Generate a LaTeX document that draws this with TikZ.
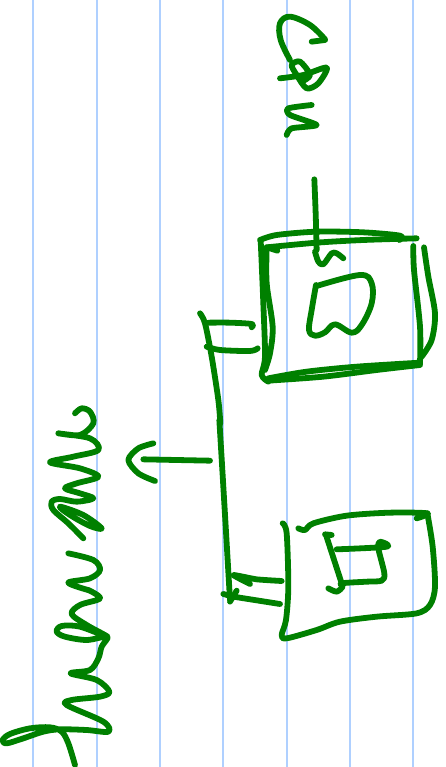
\documentclass[tikz,border=0pt]{standalone}
\definecolor{inkgreen}{HTML}{008000}
\definecolor{ruleblue}{HTML}{AFD0FF}
\begin{document}
\begin{tikzpicture}[
    x=1pt, y=-1pt,
    ink/.style={draw=inkgreen, line width=5.8pt, line cap=round, line join=round},
    rule/.style={draw=ruleblue, line width=2.2pt},
    crop/.style={shift={(#1)}, scale=1/3},
  ]
    \path[use as bounding box, fill=white] (0,0) rectangle (445,767);

    % Ruled paper ------------------------------------------------------------
    \foreach \xpos in {33,97,160,223,287,350,413}
      \draw[rule] (\xpos,0) -- (\xpos,767);

    % Upper box --------------------------------------------------------------
    \begin{scope}[crop={190,170}]
      \draw[ink] plot[smooth] coordinates {(373,28) (377,130) (380,240)};
      \draw[ink] plot[smooth] coordinates {(375,245) (385,275) (400,283) (425,250) (440,250) (460,265)};
      \draw[ink] plot[smooth] coordinates {(210,210) (260,195) (380,185) (520,187) (630,197) (628,210)};
      \draw[ink] plot[smooth] coordinates {(230,232) (380,218) (520,210) (680,205)};
      \draw[ink] (230,232) -- (262,242);
      \draw[ink] plot[smooth] coordinates {(212,210) (220,400) (225,560) (215,615) (235,635)};
      \draw[ink] plot[smooth] coordinates {(230,235) (230,340) (248,470) (240,550) (225,600)};
      \draw[ink] plot[smooth] coordinates {(235,632) (400,620) (560,600) (690,585)};
      \draw[ink] plot[smooth] coordinates {(235,625) (350,605) (500,590) (690,578)};
      \draw[ink] plot[smooth] coordinates {(670,228) (672,300) (690,470) (690,580)};
      \draw[ink] plot[smooth] coordinates {(702,232) (715,320) (735,430) (725,510) (695,560)};
      % inner shape
      \draw[ink] plot[smooth, tension=0.6] coordinates {(378,345) (365,420) (357,480) (375,497) (405,487)
        (435,463) (485,488) (515,465) (545,400) (545,340) (510,315) (380,348)};
      % stem and ticks
      \draw[ink] plot[smooth] coordinates {(30,430) (45,460) (65,560) (85,690) (91,760)};
      \draw[ink] plot[smooth] coordinates {(55,458) (120,458) (185,462) (185,472)};
      \draw[ink] plot[smooth] coordinates {(50,530) (90,540) (180,543) (203,535)};
    \end{scope}

    % Lower box --------------------------------------------------------------
    \begin{scope}[crop={190,420}]
      \draw[ink] plot[smooth] coordinates {(88,0) (100,200) (120,540)};
      \draw[ink] plot[smooth] coordinates {(278,310) (290,340) (295,500) (288,600) (275,645) (290,655)
        (380,630) (450,605) (560,590) (680,580) (720,555) (735,500) (728,380) (712,280)};
      \draw[ink] plot[smooth] coordinates {(325,325) (345,330) (370,310) (470,287) (600,278) (712,280) (680,295)};
      % inner shape
      \draw[ink] (405,343) -- (425,345);
      \draw[ink] (408,345) -- (455,490);
      \draw[ink] plot[smooth] coordinates {(415,505) (440,515) (458,500) (455,490) (530,485) (575,482)
        (583,460) (565,385) (570,365) (590,380) (440,388)};
      % ticks
      \draw[ink] plot[smooth, tension=0.3] coordinates {(275,483) (200,478) (130,465) (180,492)};
      \draw[ink] (270,552) -- (130,530) -- (100,522) (120,545) -- (140,512);
    \end{scope}

    % Pointer ----------------------------------------------------------------
    \begin{scope}[crop={115,430}]
      \draw[ink] (85,88) -- (285,92);
      \draw[ink] plot[smooth] coordinates {(115,40) (70,55) (40,90) (70,130) (120,153)};
    \end{scope}

    % Handwriting, left ------------------------------------------------------
    \begin{scope}[crop={0,590}]
      \draw[ink] plot[smooth, tension=0.55] coordinates {(225,525) (205,460) (185,425) (150,412) (90,415)
        (30,432) (8,450) (20,460) (70,445) (130,425) (180,418) (260,420) (325,425) (310,395) (200,345)
        (215,330) (300,320) (328,305) (290,270) (212,250) (270,240) (295,205) (305,170) (322,140)
        (260,150) (195,140) (170,125) (185,108) (240,110) (322,140) (260,105) (215,72) (240,45)
        (300,25) (265,0)};
    \end{scope}
    \begin{scope}[crop={40,400}]
      \draw[ink] plot[smooth, tension=0.55] coordinates {(144,570) (85,548) (150,535) (180,510) (160,480) (85,460)};
      \draw[ink] plot[smooth, tension=0.55] coordinates {(130,415) (85,370) (40,330) (35,305) (60,297) (110,305)
        (160,295) (120,280) (75,265) (110,250) (175,230) (120,205) (30,187) (100,170) (175,150)
        (150,115) (55,100) (120,105) (160,70) (150,35) (125,25) (105,40)};
      \draw[ink] plot[smooth cycle, tension=0.55] coordinates {(60,320) (130,345) (185,385) (150,378) (90,345)};
    \end{scope}

    % Handwriting, top -------------------------------------------------------
    \begin{scope}[crop={260,0}]
      \draw[ink] (195,120) -- (155,125);
      \draw[ink] plot[smooth, tension=0.6] coordinates {(195,118) (150,75) (90,50) (60,70) (62,120) (90,180)};
      \draw[ink] plot[smooth, tension=0.5] coordinates {(60,235) (130,225) (200,203) (175,250) (140,265)
        (110,225) (95,195) (120,185) (150,225) (125,245)};
      \draw[ink] plot[smooth, tension=0.4] coordinates {(155,315) (85,325) (90,345) (170,375) (95,385) (80,405)};
    \end{scope}
  \end{tikzpicture}
\end{document}
